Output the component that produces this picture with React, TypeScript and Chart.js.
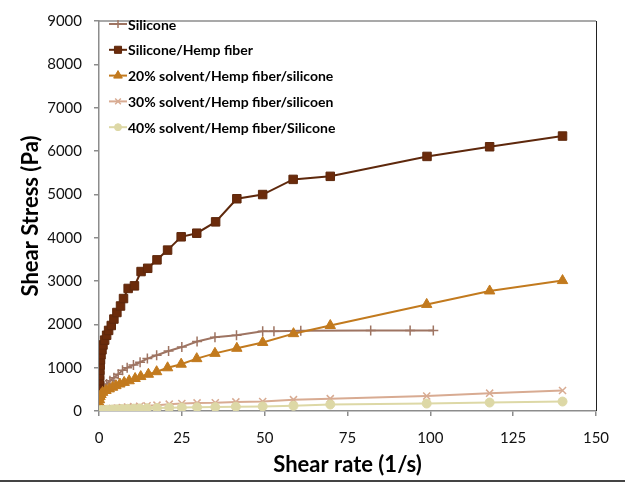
import React, { useEffect, useRef } from "react";
import { Chart, registerables } from "chart.js";
import { drawPoint } from "chart.js/helpers";

Chart.register(...registerables);

const seriesLabels = [
  "Silicone",
  "Silicone/Hemp fiber",
  "20% solvent/Hemp fiber/silicone",
  "30% solvent/Hemp fiber/silicoen",
  "40% solvent/Hemp fiber/Silicone",
];

const xTicks = [0, 25, 50, 75, 100, 125, 150];
const yTicks = [0, 1000, 2000, 3000, 4000, 5000, 6000, 7000, 8000, 9000];

const siliconeX = [0.03, 0.1, 0.25, 0.5, 0.9, 1.5, 2.3, 3.3, 4.5, 5.8, 7.1, 8.5, 10.4, 12.4, 14.6, 17.4, 21, 25, 29.6, 35, 41.5, 49.4, 52.8, 60.9, 82, 93.9, 100.9];
const siliconeY = [200, 300, 380, 450, 510, 570, 625, 700, 770, 850, 940, 1000, 1060, 1125, 1210, 1285, 1385, 1475, 1605, 1700, 1750, 1840, 1840, 1850, 1855, 1860, 1860];

const hempX = [0.03, 0.06, 0.1, 0.15, 0.2, 0.27, 0.35, 0.45, 0.6, 0.9, 1.2, 1.7, 2.3, 2.9, 3.7, 4.5, 5.4, 6.5, 7.4, 8.8, 10.7, 12.7, 14.7, 17.5, 20.7, 24.8, 29.5, 35.2, 41.6, 49.4, 58.6, 69.8, 99, 117.9, 139.9];
const hempY = [350, 460, 580, 700, 820, 940, 1060, 1180, 1298, 1411, 1523, 1636, 1748, 1860, 1973, 2122, 2273, 2423, 2595, 2828, 2888, 3218, 3293, 3488, 3713, 4020, 4103, 4365, 4898, 4995, 5345, 5415, 5875, 6098, 6345];

const solvent20X = [0.03, 0.08, 0.15, 0.3, 0.6, 1.1, 2.1, 3.1, 4.1, 5.1, 6.3, 7.6, 9.1, 10.9, 12.6, 14.9, 17.4, 20.7, 24.8, 29.5, 35, 41.6, 49.4, 58.7, 69.8, 98.9, 117.9, 139.9];
const solvent20Y = [80, 180, 260, 330, 380, 430, 473, 510, 548, 585, 623, 660, 698, 750, 795, 848, 907, 997, 1080, 1208, 1330, 1447, 1582, 1785, 1973, 2460, 2770, 3010];

const solvent30X = [0.3, 1, 2.5, 4, 5.5, 7, 8.6, 10.5, 12.3, 14.5, 17.5, 21.2, 25, 29.6, 35.1, 41.3, 49.4, 58.7, 69.8, 98.9, 117.9, 139.9];
const solvent30Y = [30, 40, 50, 60, 70, 80, 90, 100, 110, 120, 135, 158, 172, 187, 190, 210, 220, 262, 285, 345, 412, 472];

const solvent40X = [0.3, 1, 2.5, 4, 5.5, 7, 8.6, 10.5, 12.3, 14.5, 17.5, 21.2, 25, 29.6, 35.1, 41.3, 49.4, 58.7, 69.8, 98.9, 117.9, 139.9];
const solvent40Y = [15, 25, 30, 35, 40, 45, 50, 55, 60, 65, 70, 75, 80, 85, 90, 100, 105, 120, 150, 172, 195, 218];

const FONT = "Lato, 'Open Sans', 'DejaVu Sans', sans-serif";

const pts = (xs: number[], ys: number[]) => xs.map((x, i) => ({ x, y: ys[i] }));

const styles = [
  { color: "#9E7462", fill: "#9E7462", pointStyle: "cross", radius: 5, bw: 1.5 },
  { color: "#5E280C", fill: "#6B2B0B", pointStyle: "rect", radius: 6, bw: 1 },
  { color: "#C27A1E", fill: "#C27A1E", pointStyle: "triangle", radius: 6, bw: 1 },
  { color: "#D8AB92", fill: "#D8AB92", pointStyle: "crossRot", radius: 5, bw: 1.5 },
  { color: "#DDD8A6", fill: "#DDD8A6", pointStyle: "circle", radius: 4.5, bw: 1 },
];

const frameAndLegend = {
  id: "frameAndLegend",
  afterDraw(chart: any) {
    const ctx = chart.ctx;
    const ca = chart.chartArea;
    ctx.save();
    // top and right plot borders
    ctx.strokeStyle = "#8c8c8c";
    ctx.lineWidth = 1.5;
    ctx.beginPath();
    ctx.moveTo(ca.left, ca.top);
    ctx.lineTo(ca.right, ca.top);
    ctx.stroke();
    ctx.strokeStyle = "#222";
    ctx.lineWidth = 1;
    ctx.beginPath();
    ctx.moveTo(ca.right + 0.5, ca.top);
    ctx.lineTo(ca.right + 0.5, ca.bottom);
    ctx.stroke();
    // outer bottom line of picture
    ctx.fillStyle = "#444";
    ctx.fillRect(0, 480, chart.width, 2);

    // legend
    ctx.font = `bold 14px ${FONT}`;
    ctx.textBaseline = "middle";
    ctx.textAlign = "left";
    chart.data.datasets.forEach((ds: any, i: number) => {
      const s = styles[i];
      const y = 24 + i * 25.8;
      ctx.strokeStyle = s.color;
      ctx.lineWidth = 2;
      ctx.beginPath();
      ctx.moveTo(109, y);
      ctx.lineTo(127, y);
      ctx.stroke();
      ctx.fillStyle = s.fill;
      ctx.strokeStyle = s.color;
      ctx.lineWidth = s.bw;
      drawPoint(ctx, { pointStyle: s.pointStyle as any, rotation: 0, radius: s.radius - 1, borderWidth: s.bw }, 118, y);
      ctx.fillStyle = "#000";
      ctx.fillText(ds.label, 128, y + 1);
    });
    ctx.restore();
  },
};

export default function App() {
  const ref = useRef<HTMLCanvasElement>(null);
  useEffect(() => {
    const canvas = ref.current!;
    const series = [
      pts(siliconeX, siliconeY),
      pts(hempX, hempY),
      pts(solvent20X, solvent20Y),
      pts(solvent30X, solvent30Y),
      pts(solvent40X, solvent40Y),
    ];
    const chart = new Chart(canvas, {
      type: "scatter",
      data: {
        datasets: series.map((data, i) => ({
          label: seriesLabels[i],
          data,
          showLine: true,
          borderColor: styles[i].color,
          backgroundColor: styles[i].fill,
          borderWidth: 2,
          pointStyle: styles[i].pointStyle as any,
          pointRadius: styles[i].radius,
          pointBorderWidth: styles[i].bw,
          pointBorderColor: styles[i].color,
          pointBackgroundColor: styles[i].fill,
          tension: 0,
          order: -i,
        })),
      },
      options: {
        responsive: false,
        animation: false,
        layout: { padding: { left: 0, top: 11, right: 29, bottom: 0 } },
        plugins: {
          legend: { display: false },
          tooltip: { enabled: false },
        },
        scales: {
          x: {
            type: "linear",
            min: 0,
            max: 150,
            afterBuildTicks: (scale: any) => {
              scale.ticks = xTicks.map((v) => ({ value: v }));
            },
            afterFit: (scale: any) => {
              scale.height = 73;
            },
            ticks: {
              font: { family: FONT, size: 15 },
              color: "#111",
              padding: 13,
              maxRotation: 0,
              callback: (v: any) => String(v),
            },
            grid: {
              drawOnChartArea: false,
              drawTicks: true,
              tickLength: 5,
              color: "#8c8c8c",
              lineWidth: 1.5,
            },
            border: { color: "#8c8c8c", width: 1.5 },
            title: {
              display: true,
              text: "Shear rate (1/s)",
              font: { family: FONT, size: 22, weight: "bold" },
              color: "#000",
              padding: { top: 0, bottom: 6 },
            },
          },
          y: {
            type: "linear",
            min: 0,
            max: 9000,
            afterBuildTicks: (scale: any) => {
              scale.ticks = yTicks.map((v) => ({ value: v }));
            },
            afterFit: (scale: any) => {
              scale.width = 99;
            },
            ticks: {
              font: { family: FONT, size: 15 },
              color: "#111",
              padding: 12,
              callback: (v: any) => String(v),
            },
            grid: {
              drawOnChartArea: false,
              drawTicks: true,
              tickLength: 5,
              color: "#8c8c8c",
              lineWidth: 1.5,
            },
            border: { color: "#8c8c8c", width: 1.5 },
            title: {
              display: true,
              text: "Shear Stress (Pa)",
              font: { family: FONT, size: 22, weight: "bold" },
              color: "#000",
              padding: { top: 18, bottom: 0 },
            },
          },
        },
      },
      plugins: [frameAndLegend],
    });
    return () => chart.destroy();
  }, []);
  return (
    <div style={{ position: "fixed", left: 0, top: 0, width: 625, height: 484, background: "#fff" }}>
      <canvas ref={ref} width={625} height={484} style={{ display: "block", width: 625, height: 484 }} />
    </div>
  );
}
